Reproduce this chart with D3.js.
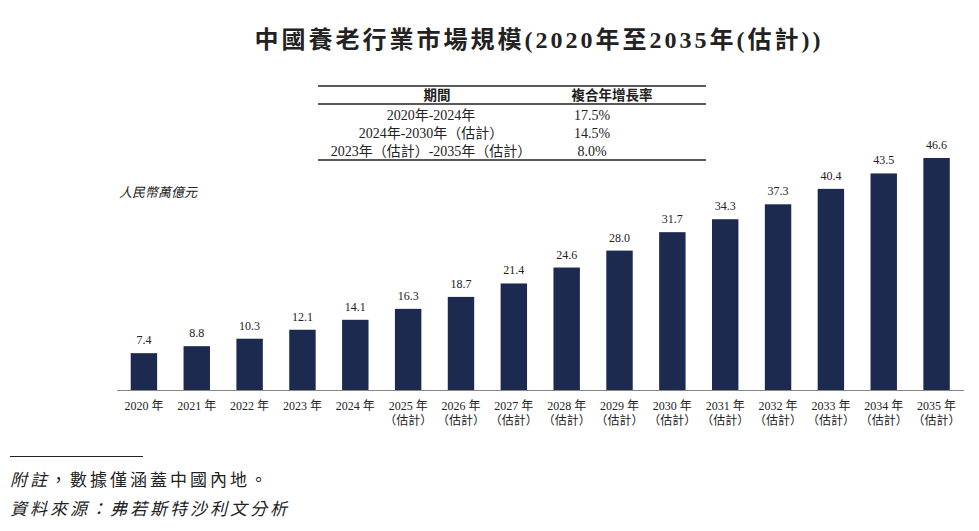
<!DOCTYPE html>
<html><head><meta charset="utf-8">
<script src="https://cdn.jsdelivr.net/npm/d3@7"></script>
<style>
body{margin:0;background:#fff;}
svg{display:block;}
text{font-family:"Liberation Serif","DejaVu Serif","Noto Sans CJK TC",serif;fill:#222;}
</style></head><body>
<svg id="c" width="979" height="531"></svg>
<script>
const years = ["2020年","2021年","2022年","2023年","2024年","2025年","2026年","2027年","2028年","2029年","2030年","2031年","2032年","2033年","2034年","2035年"];
const estimated = [false,false,false,false,false,true,true,true,true,true,true,true,true,true,true,true];
const values = [7.4,8.8,10.3,12.1,14.1,16.3,18.7,21.4,24.6,28.0,31.7,34.3,37.3,40.4,43.5,46.6];
const tablePeriods = ["2020年-2024年","2024年-2030年（估計）","2023年（估計）-2035年（估計）"];
const tableCagr = ["17.5%","14.5%","8.0%"];

const svg = d3.select("#c");

svg.append("text").attr("x",539).attr("y",48).attr("text-anchor","middle")
  .attr("font-size",24).attr("font-weight","bold").attr("fill","#111").attr("letter-spacing",3)
  .text("中國養老行業市場規模(2020年至2035年(估計))");

// table
const tx0=318, tx1=706;
[86,104,160].forEach(yy=>svg.append("line").attr("x1",tx0).attr("x2",tx1).attr("y1",yy).attr("y2",yy).attr("stroke","#222").attr("stroke-width",1.5));
svg.append("text").attr("x",437).attr("y",100).attr("text-anchor","middle").attr("font-size",13.5).attr("font-weight","bold").text("期間");
svg.append("text").attr("x",612).attr("y",100).attr("text-anchor","middle").attr("font-size",13.5).attr("font-weight","bold").text("複合年增長率");
const rowY = d3.scaleBand().domain(d3.range(tablePeriods.length)).range([106,160]);
tablePeriods.forEach((p,i)=>{
  svg.append("text").attr("x",431).attr("y",rowY(i)+rowY.bandwidth()/2+5).attr("text-anchor","middle").attr("font-size",14).text(p);
  svg.append("text").attr("x",592).attr("y",rowY(i)+rowY.bandwidth()/2+5).attr("text-anchor","middle").attr("font-size",14).text(tableCagr[i]);
});

svg.append("text").attr("x",119).attr("y",197).attr("font-size",13).attr("font-style","italic").text("人民幣萬億元");

// chart
const x = d3.scaleBand().domain(years).range([117.5,963]).paddingInner(0.5).paddingOuter(0.25);
const y = d3.scaleLinear().domain([0,46.6]).range([390,158]);

svg.append("g").selectAll("rect").data(values).join("rect")
  .attr("x",(d,i)=>x(years[i])).attr("width",x.bandwidth())
  .attr("y",d=>y(d)).attr("height",d=>390-y(d)).attr("fill","#1b2a4e");

svg.append("g").selectAll("text").data(values).join("text")
  .attr("x",(d,i)=>x(years[i])+x.bandwidth()/2).attr("y",d=>y(d)-9)
  .attr("text-anchor","middle").attr("font-size",12).text(d=>d.toFixed(1));

svg.append("line").attr("x1",117).attr("x2",964).attr("y1",390.5).attr("y2",390.5).attr("stroke","#888").attr("stroke-width",1.2);

const lab = svg.append("g");
years.forEach((yr,i)=>{
  const cx = x(yr)+x.bandwidth()/2;
  lab.append("text").attr("x",cx).attr("y",410).attr("text-anchor","middle").attr("font-size",12).text(yr.replace("年"," 年"));
  if(estimated[i]) lab.append("text").attr("x",cx).attr("y",425).attr("text-anchor","middle").attr("font-size",12).text("（估計）");
});

// footnotes
svg.append("line").attr("x1",10).attr("x2",143).attr("y1",456.5).attr("y2",456.5).attr("stroke","#222").attr("stroke-width",1.2);
const f1 = svg.append("text").attr("x",10).attr("y",486).attr("font-size",17).attr("letter-spacing",3).attr("fill","#333");
f1.append("tspan").attr("font-style","italic").text("附註");
f1.append("tspan").text("，數據僅涵蓋中國內地。");
svg.append("text").attr("x",10).attr("y",515).attr("font-size",17).attr("letter-spacing",3).attr("font-style","italic").attr("fill","#333").text("資料來源：弗若斯特沙利文分析");
</script>
</body></html>
